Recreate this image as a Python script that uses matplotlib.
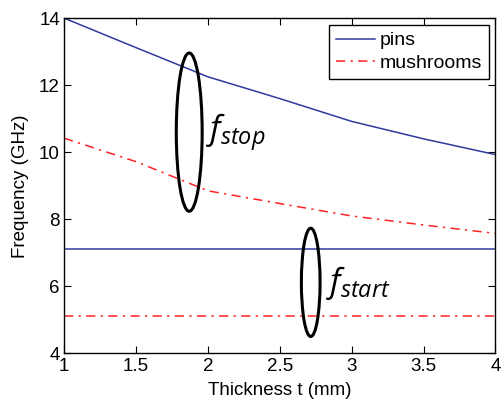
import matplotlib.pyplot as plt
from matplotlib.patches import Ellipse

plt.rcParams['font.family'] = 'Liberation Sans'
plt.rcParams['mathtext.fontset'] = 'custom'
plt.rcParams['mathtext.it'] = 'Open Sans:italic'
plt.rcParams['mathtext.rm'] = 'Open Sans'

t = [1, 1.5, 2, 2.5, 3, 3.5, 4]
pins_stop = [14.0, 13.12, 12.25, 11.6, 10.92, 10.4, 9.93]
mush_stop = [10.42, 9.72, 8.85, 8.47, 8.1, 7.83, 7.58]
pins_start = [7.12, 7.12, 7.12, 7.12, 7.12, 7.12, 7.12]
mush_start = [5.12, 5.12, 5.12, 5.12, 5.12, 5.12, 5.12]

blue = '#2e3a9c'
red = '#ff2222'
dd = (0, (6, 3.5, 1.5, 3.5))

fig = plt.figure(figsize=(5.01, 4.03), dpi=100)
ax = fig.add_axes([0.128, 0.123, 0.861, 0.832])

ax.plot(t, pins_stop, color=blue, lw=1.1, label='pins')
ax.plot(t, mush_stop, color=red, lw=1.1, ls=dd, label='mushrooms')
ax.plot(t, pins_start, color=blue, lw=1.1)
ax.plot(t, mush_start, color=red, lw=1.1, ls=dd)

ax.add_patch(Ellipse((1.87, 10.6), 0.18, 4.72, fill=False, ec='black', lw=2.2, zorder=5))
ax.add_patch(Ellipse((2.715, 6.12), 0.13, 3.23, fill=False, ec='black', lw=2.2, zorder=5))
ax.text(1.99, 10.6, r'$f_{stop}$', fontsize=24, ha='left', va='center')
ax.text(2.82, 6.1, r'$f_{start}$', fontsize=24, ha='left', va='center')

ax.set_xlim(1, 4)
ax.set_ylim(4, 14)
ax.set_xticks([1, 1.5, 2, 2.5, 3, 3.5, 4])
ax.set_xticklabels(['1', '1.5', '2', '2.5', '3', '3.5', '4'])
ax.set_yticks([4, 6, 8, 10, 12, 14])
ax.tick_params(direction='in', top=True, right=True, labelsize=13.5, length=5, pad=3)
for s in ax.spines.values():
    s.set_linewidth(1.0)
ax.set_xlabel('Thickness t (mm)', fontsize=13.5, labelpad=5)
ax.set_ylabel('Frequency (GHz)', fontsize=13.5, labelpad=7)

leg = ax.legend(loc='upper right', fontsize=14, fancybox=False, framealpha=1,
                edgecolor='black', handlelength=2.0, handletextpad=0.25,
                borderpad=0.35, labelspacing=0.25, borderaxespad=0.35)
leg.get_frame().set_linewidth(1.0)

fig.savefig('out.png', dpi=100)
